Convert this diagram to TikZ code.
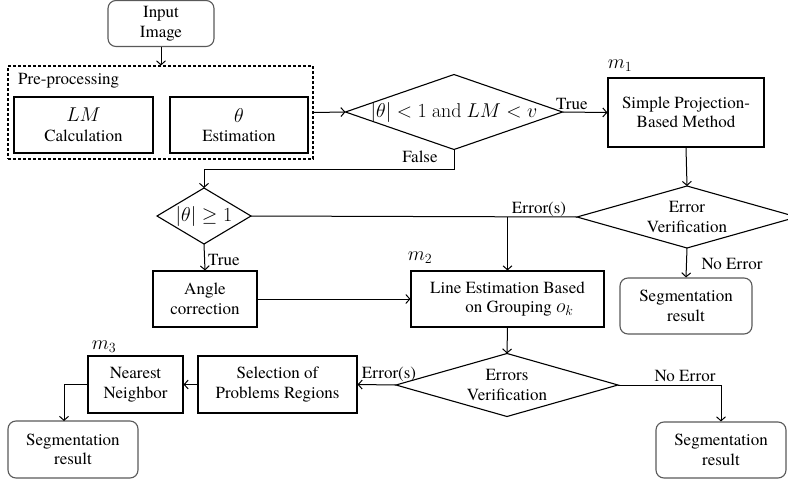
\RequirePackage{fix-cm}
\documentclass[tikz,border=0pt]{standalone}
\usepackage[no-math]{fontspec}
\IfFontExistsTF{texgyretermes-regular.otf}{%
  \setmainfont{texgyretermes}[Extension=.otf, UprightFont=*-regular, BoldFont=*-bold, ItalicFont=*-italic, BoldItalicFont=*-bolditalic]}{%
  \setmainfont{Liberation Serif}}
\usetikzlibrary{shapes.geometric,arrows.meta}
\newcommand\mm[1]{{\fontsize{20}{22}\selectfont$#1$}}
\begin{document}
\begin{tikzpicture}[x=1pt,y=-1pt,
  every node/.style={font=\fontsize{17}{19.5}\selectfont, align=center, inner sep=0pt},
  sq/.style={draw, line width=1.1pt},
  rnd/.style={draw=black!65, line width=1.1pt, rounded corners=8pt},
  dia/.style={draw, diamond, line width=1.1pt, inner sep=0pt, outer sep=0pt},
  arr/.style={-{Straight Barb[length=4pt,width=9pt]}, line width=1pt},
  ln/.style={line width=1pt}]
\useasboundingbox (0,0) rectangle (788,482);

% nodes
\node[rnd, minimum width=106pt, minimum height=46pt] (input) at (161,23.5) {Input\\Image};
\node[draw, dashed, dash pattern=on 3pt off 2pt, line width=1.1pt, minimum width=305pt, minimum height=93pt] (pre) at (160.5,112.5) {};
\node[anchor=base west] (pretxt) at (18,84) {Pre-processing};
\node[sq, minimum width=139pt, minimum height=56pt] (lm) at (83.5,125) {\mm{LM}\\Calculation};
\node[sq, minimum width=138pt, minimum height=56pt] (th) at (239,125) {\mm{\theta}\\Estimation};

\node[dia, minimum width=217pt, minimum height=75pt] (d1) at (454,112) {};
\node (d1t) at (454,112) {\mm{|\theta| < 1\ \mathrm{and}\ LM < v}};

\node[sq, minimum width=156pt, minimum height=69pt] (spm) at (686,112.5) {Simple Projection-\\Based Method};
\node (m1) at (620,66) {\mm{m_1}};

\node[dia, minimum width=94pt, minimum height=56pt] (d2) at (204,216) {};
\node (d2t) at (204,216) {\mm{|\theta| \geq 1}};

\node[dia, minimum width=220pt, minimum height=62pt] (d3) at (687,217) {};
\node (d3t) at (687,217) {Error\\Verification};

\node[sq, minimum width=104pt, minimum height=56pt] (ang) at (205,299) {Angle\\correction};
\node[sq, minimum width=193pt, minimum height=56pt] (les) at (507.5,299) {Line Estimation Based\\\hspace*{24pt}on Grouping \mm{o_k}};
\node (m2) at (420,258) {\mm{m_2}};

\node[rnd, minimum width=132pt, minimum height=56pt] (seg1) at (686,306) {Segmentation\\result};

\node[dia, minimum width=222pt, minimum height=63pt] (d4) at (507,385) {};
\node (d4t) at (507,385) {Errors\\Verification};

\node[sq, minimum width=159pt, minimum height=57pt] (sel) at (277.5,384.5) {Selection of\\Problems Regions};
\node[sq, minimum width=95pt, minimum height=57pt] (nn) at (135.5,384.5) {Nearest\\Neighbor};
\node (m3) at (104,347) {\mm{m_3}};

\node[rnd, minimum width=130pt, minimum height=57pt] (seg2) at (73,449.5) {Segmentation\\result};
\node[rnd, minimum width=130pt, minimum height=56pt] (seg3) at (721,450) {Segmentation\\result};

% coordinates
\coordinate (fk) at (454,169);
\coordinate (br) at (les.north |- d3.west);
\coordinate (nnk) at (64,384.5);
\coordinate (s2t) at (64,421);

% connectors
\draw[arr] (input.south) -- (input.south |- pre.north);
\draw[arr] (pre.east) -- (d1.west);
\draw[arr] (d1.east) -- (spm.west);
\node (tTrue) at (572,104) {True};
\draw[arr] (d1.south) -- (fk) -| (d2.north);
\node (tFalse) at (420,156.5) {False};
\draw[arr] (spm.south) -- (d3.north);
\draw[ln] (d3.west) -- (d2.east);
\node[anchor=base] (tErr1) at (539,213) {Error(s)};
\draw[arr] (br) -- (les.north);
\draw[arr] (d2.south) -- (ang.north);
\node (tTrue2) at (224,260) {True};
\draw[arr] (ang.east) -- (les.west);
\draw[arr] (d3.south) -- (seg1.north);
\node[anchor=base] (tNoErr1) at (732,269) {No Error};
\draw[arr] (les.south) -- (d4.north);
\draw[arr] (d4.west) -- (sel.east);
\node[anchor=base] (tErr2) at (389,378) {Error(s)};
\draw[arr] (sel.west) -- (nn.east);
\draw[arr] (nn.west) -- (nnk) -- (s2t);
\draw[arr] (d4.east) -| (seg3.north);
\node[anchor=base] (tNoErr2) at (685,381) {No Error};
\end{tikzpicture}
\end{document}
